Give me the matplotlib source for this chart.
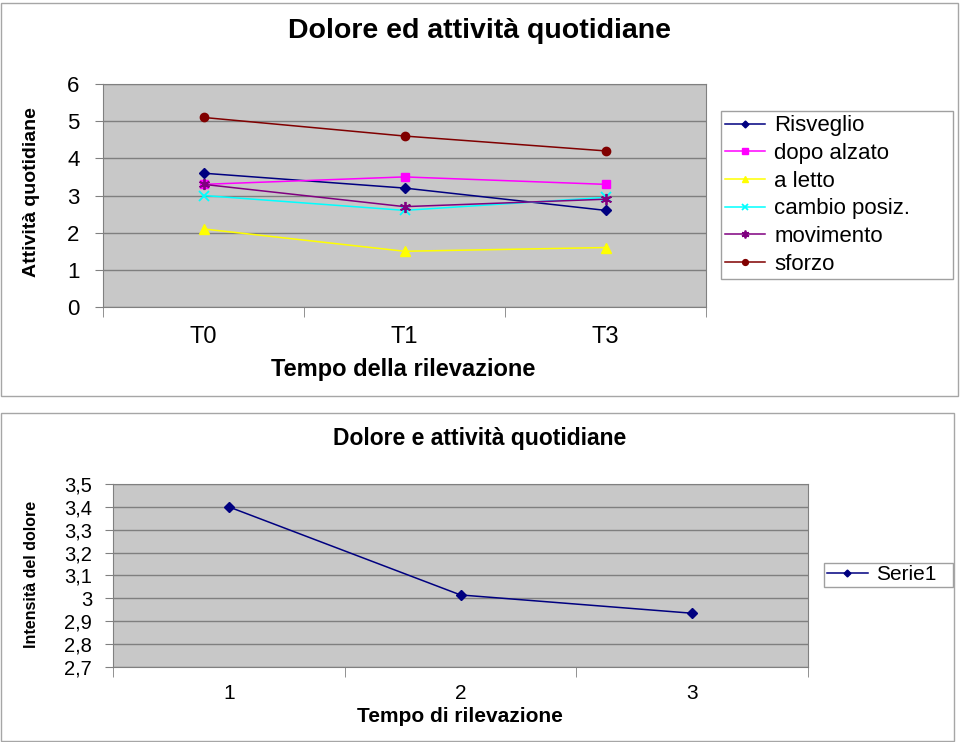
import matplotlib.pyplot as plt
from matplotlib.patches import Rectangle
from matplotlib.ticker import FixedLocator, FuncFormatter

plt.rcParams['font.family'] = ['Liberation Sans', 'DejaVu Sans']

# --- data, upper chart ---
tempi = ['T0', 'T1', 'T3']
risveglio = [3.6, 3.2, 2.6]
dopo_alzato = [3.3, 3.5, 3.3]
a_letto = [2.1, 1.5, 1.6]
cambio_posiz = [3.0, 2.6, 2.95]
movimento = [3.3, 2.7, 2.9]
sforzo = [5.1, 4.6, 4.2]

# --- data, lower chart ---
rilevazioni = [1, 2, 3]
serie1 = [3.40, 3.015, 2.935]

W, H = 960, 742


def fig_rect(x0, y0, x1, y1):
    # pixel box (top-left origin) -> figure fraction
    return [x0 / W, 1 - y1 / H, (x1 - x0) / W, (y1 - y0) / H]


def style(ax):
    ax.set_facecolor('#c8c8c8')
    for s in ax.spines.values():
        s.set_color('#808080')
    ax.grid(axis='y', color='#7f7f7f', lw=1)
    ax.set_axisbelow(True)
    ax.tick_params(axis='x', which='major', length=0)
    ax.tick_params(axis='x', which='minor', length=7, color='#808080', direction='out')
    ax.tick_params(axis='y', length=6, color='#808080', direction='out')


fig = plt.figure(figsize=(9.6, 7.42), dpi=100)

# outer chart frames
for box in [(1, 3, 958, 396), (1, 413, 954, 741)]:
    r = fig_rect(*box)
    fig.add_artist(Rectangle((r[0], r[1]), r[2], r[3], transform=fig.transFigure,
                             fill=False, ec='#a6a6a6', lw=1))

# ---------------- upper chart ----------------
ax1 = fig.add_axes(fig_rect(103, 84, 706, 307))
style(ax1)
xs = range(len(tempi))
ax1.plot(xs, risveglio, color='#000080', marker='D', ms=5, lw=1.1, label='Risveglio')
ax1.plot(xs, dopo_alzato, color='#ff00ff', marker='s', ms=6, lw=1.1, label='dopo alzato')
ax1.plot(xs, a_letto, color='#ffff00', marker='^', ms=7, lw=1.1, label='a letto')
ax1.plot(xs, cambio_posiz, color='#00ffff', marker='x', ms=7, mew=1.3, lw=1.1, label='cambio posiz.')
ax1.plot(xs, movimento, color='#800080', marker=(6, 2, 0), ms=8, mew=1.3, lw=1.1, label='movimento')
ax1.plot(xs, sforzo, color='#800000', marker='o', ms=6, lw=1.1, label='sforzo')

ax1.set_xlim(-0.5, len(tempi) - 0.5)
ax1.set_ylim(0, 6)
ax1.set_yticks(range(0, 7))
ax1.set_xticks(list(xs))
ax1.set_xticklabels(tempi)
ax1.xaxis.set_minor_locator(FixedLocator([-0.5, 0.5, 1.5, 2.5]))
ax1.tick_params(axis='x', labelsize=17, pad=14)
ax1.tick_params(axis='y', labelsize=16, pad=11)

leg1 = ax1.legend(loc='upper left', bbox_to_anchor=fig_rect(721, 111, 953, 278),
                  bbox_transform=fig.transFigure, mode='expand', borderaxespad=0,
                  fontsize=16, handlelength=1.8, handletextpad=0.4, labelspacing=0.3,
                  borderpad=0.2, fancybox=False, framealpha=1, markerscale=0.7)
leg1.get_frame().set_edgecolor('#a0a0a0')
leg1.get_frame().set_linewidth(1)

fig.text(480 / W, 1 - 31 / H, 'Dolore ed attività quotidiane', ha='center', va='center',
         fontsize=20.5, fontweight='bold')
fig.text(403 / W, 1 - 369 / H, 'Tempo della rilevazione', ha='center', va='center',
         fontsize=17, fontweight='bold')
fig.text(32 / W, 1 - 192 / H, 'Attività quotidiane', ha='center', va='center',
         rotation=90, fontsize=14, fontweight='bold')

# ---------------- lower chart ----------------
ax2 = fig.add_axes(fig_rect(113, 484, 808, 667))
style(ax2)
ax2.plot(rilevazioni, serie1, color='#000080', marker='D', ms=5, lw=1.1, label='Serie1')
ax2.set_xlim(0.5, 3.5)
ax2.set_ylim(2.7, 3.5)
ax2.set_yticks([2.7, 2.8, 2.9, 3.0, 3.1, 3.2, 3.3, 3.4, 3.5])
ax2.yaxis.set_major_formatter(FuncFormatter(lambda v, p: f'{v:g}'.replace('.', ',')))
ax2.set_xticks(rilevazioni)
ax2.xaxis.set_minor_locator(FixedLocator([0.5, 1.5, 2.5, 3.5]))
ax2.tick_params(axis='x', labelsize=15, pad=12)
ax2.tick_params(axis='y', labelsize=14.5, pad=9)

leg2 = ax2.legend(loc='upper left', bbox_to_anchor=fig_rect(824, 563, 953, 587),
                  bbox_transform=fig.transFigure, mode='expand', borderaxespad=0,
                  fontsize=15, handlelength=2.0, handletextpad=0.4,
                  borderpad=0.12, fancybox=False, framealpha=1, markerscale=0.7)
leg2.get_frame().set_edgecolor('#a0a0a0')
leg2.get_frame().set_linewidth(1)

fig.text(480 / W, 1 - 438 / H, 'Dolore e attività quotidiane', ha='center', va='center',
         fontsize=16.5, fontweight='bold')
fig.text(460 / W, 1 - 716 / H, 'Tempo di rilevazione', ha='center', va='center',
         fontsize=15, fontweight='bold')
fig.text(32 / W, 1 - 574 / H, 'Intensità del dolore', ha='center', va='center',
         rotation=90, fontsize=11.5, fontweight='bold')

fig.savefig('out.png', dpi=100)
